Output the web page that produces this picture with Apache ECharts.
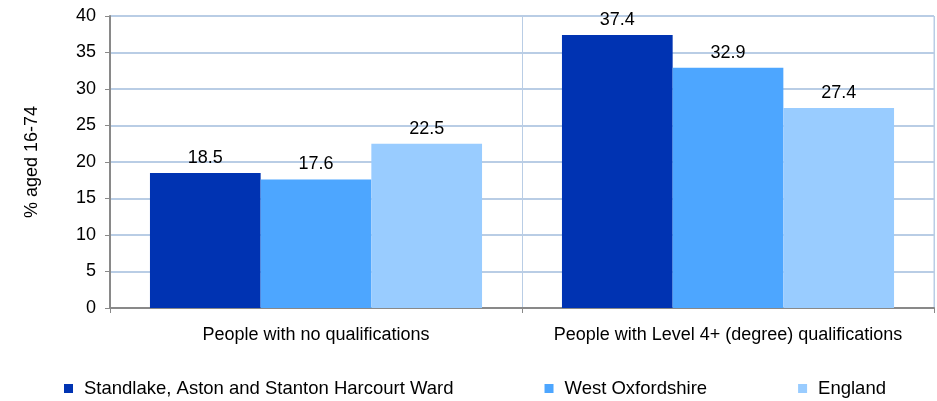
<!DOCTYPE html>
<html><head><meta charset="utf-8">
<script src="https://cdn.jsdelivr.net/npm/echarts@6/dist/echarts.min.js"></script>
<style>html,body{margin:0;padding:0;background:#fff}#c{width:937px;height:401px}</style>
</head><body><div id="c"></div>
<script>
const categories = ['People with no qualifications', 'People with Level 4+ (degree) qualifications'];
const seriesNames = ['Standlake, Aston and Stanton Harcourt Ward', 'West Oxfordshire', 'England'];
const ward = [18.5, 37.4];
const westOx = [17.6, 32.9];
const england = [22.5, 27.4];
const colors = ['#0033B2', '#4DA6FF', '#99CCFF'];
const values = [ward, westOx, england];
const font = 'Liberation Sans, Arial, sans-serif';
const chart = echarts.init(document.getElementById('c'), null, {renderer: 'canvas'});
chart.setOption({
  animation: false,
  textStyle: {fontFamily: font},
  grid: {left: 110, right: 3, top: 16, bottom: 93, containLabel: false, show: true, borderColor: '#B9CDE5', borderWidth: 1},
  legend: {
    top: 379, left: 64, padding: 0, itemWidth: 9, itemHeight: 9, itemGap: 91,
    icon: 'rect',
    textStyle: {fontSize: 18.5, color: '#000', fontFamily: font, padding: [0, 0, 0, 6]},
    data: seriesNames
  },
  xAxis: {
    type: 'category', data: categories,
    axisLine: {lineStyle: {color: '#898989', width: 2}},
    axisTick: {show: true, interval: 0, length: 5, lineStyle: {color: '#898989'}},
    splitLine: {show: true, interval: 0, lineStyle: {color: '#B9CDE5'}},
    axisLabel: {interval: 0, fontSize: 18, color: '#000', margin: 18, fontFamily: font}
  },
  yAxis: {
    type: 'value', min: 0, max: 40, interval: 5,
    name: '% aged 16-74', nameLocation: 'middle', nameGap: 69, nameRotate: 90,
    nameTextStyle: {fontSize: 18, color: '#000', fontFamily: font},
    axisLine: {show: true, lineStyle: {color: '#898989', width: 2}},
    axisTick: {show: true, length: 5, lineStyle: {color: '#898989'}},
    splitLine: {lineStyle: {color: '#B9CDE5', width: 2}},
    axisLabel: {fontSize: 18, color: '#000', margin: 14, fontFamily: font}
  },
  series: seriesNames.map((n, i) => ({
    name: n, type: 'bar', data: values[i],
    barGap: '0%', barCategoryGap: '19.4%',
    itemStyle: {color: colors[i]},
    label: {show: true, position: 'top', fontSize: 18, color: '#000', fontFamily: font, distance: 6}
  }))
});
</script></body></html>
